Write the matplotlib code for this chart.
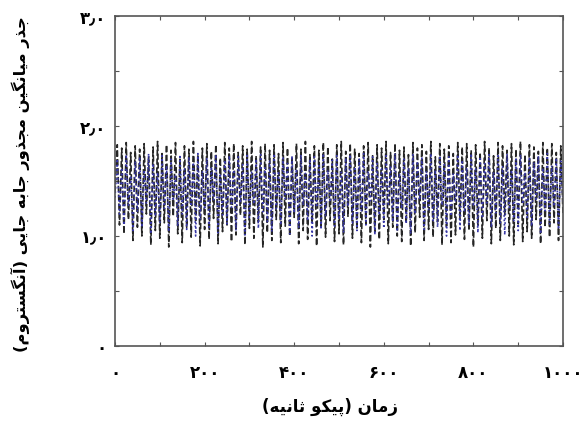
import numpy as np
import matplotlib
matplotlib.use("Agg")
import matplotlib.pyplot as plt
from matplotlib.ticker import MultipleLocator

# داده‌ها (خوانده شده از تصویر)
time_ps = np.linspace(0, 1000, 201)

rmsd_black = [
    1.40, 1.83, 1.10, 1.80, 1.02, 1.85, 1.15, 1.76, 0.96, 1.82,
    1.08, 1.79, 1.00, 1.84, 1.20, 1.72, 0.92, 1.81, 1.05, 1.86,
    0.98, 1.75, 1.12, 1.83, 0.90, 1.78, 1.18, 1.85, 1.02, 1.70,
    0.94, 1.82, 1.08, 1.79, 0.99, 1.86, 1.14, 1.74, 0.91, 1.80,
    1.06, 1.84, 0.97, 1.77, 1.16, 1.83, 0.93, 1.71, 1.04, 1.85,
    1.10, 1.80, 0.95, 1.84, 1.01, 1.76, 1.19, 1.82, 0.92, 1.79,
    1.07, 1.86, 0.98, 1.73, 1.13, 1.81, 0.90, 1.84, 1.03, 1.78,
    0.96, 1.83, 1.15, 1.75, 0.94, 1.85, 1.09, 1.80, 1.00, 1.72,
    1.17, 1.84, 0.93, 1.79, 1.05, 1.86, 0.97, 1.74, 1.12, 1.82,
    0.91, 1.78, 1.08, 1.85, 0.99, 1.81, 1.14, 1.70, 0.95, 1.83,
    1.02, 1.86, 0.92, 1.77, 1.18, 1.84, 0.98, 1.79, 1.06, 1.75,
    0.94, 1.82, 1.11, 1.85, 0.90, 1.73, 1.04, 1.83, 0.97, 1.80,
    1.15, 1.86, 0.93, 1.76, 1.08, 1.84, 1.00, 1.78, 0.95, 1.81,
    1.12, 1.74, 0.91, 1.85, 1.03, 1.80, 1.17, 1.83, 0.96, 1.77,
    1.06, 1.86, 0.99, 1.72, 1.13, 1.84, 0.92, 1.79, 1.09, 1.82,
    0.94, 1.75, 1.01, 1.85, 1.16, 1.81, 0.97, 1.84, 1.05, 1.78,
    0.90, 1.83, 1.10, 1.76, 0.98, 1.86, 1.14, 1.80, 0.93, 1.73,
    1.07, 1.85, 0.96, 1.82, 1.19, 1.78, 1.00, 1.84, 0.92, 1.79,
    1.11, 1.86, 0.95, 1.74, 1.04, 1.83, 0.98, 1.81, 1.15, 1.77,
    0.93, 1.85, 1.08, 1.80, 0.99, 1.84, 1.12, 1.76, 0.96, 1.82,
    1.20,
]

rmsd_blue = [
    1.35, 1.70, 1.20, 1.62, 1.10, 1.74, 1.28, 1.55, 1.05, 1.68,
    1.22, 1.72, 1.08, 1.60, 1.30, 1.75, 1.02, 1.66, 1.18, 1.58,
    1.12, 1.73, 1.25, 1.64, 1.04, 1.70, 1.32, 1.56, 1.09, 1.74,
    1.20, 1.61, 1.06, 1.72, 1.27, 1.67, 1.00, 1.75, 1.15, 1.59,
    1.24, 1.71, 1.08, 1.63, 1.33, 1.74, 1.03, 1.57, 1.19, 1.69,
    1.11, 1.73, 1.26, 1.60, 1.05, 1.72, 1.30, 1.65, 1.01, 1.75,
    1.17, 1.58, 1.29, 1.70, 1.07, 1.74, 1.22, 1.62, 1.13, 1.68,
    1.04, 1.75, 1.25, 1.59, 1.10, 1.71, 1.34, 1.66, 1.02, 1.73,
    1.21, 1.61, 1.08, 1.74, 1.28, 1.57, 1.14, 1.70, 1.00, 1.72,
    1.26, 1.64, 1.06, 1.75, 1.18, 1.60, 1.31, 1.69, 1.09, 1.73,
    1.15, 1.58, 1.03, 1.71, 1.27, 1.74, 1.12, 1.63, 1.05, 1.70,
    1.23, 1.75, 1.10, 1.59, 1.32, 1.72, 1.01, 1.66, 1.19, 1.61,
    1.07, 1.73, 1.29, 1.64, 1.13, 1.75, 1.04, 1.57, 1.25, 1.70,
    1.11, 1.62, 1.02, 1.74, 1.20, 1.68, 1.33, 1.71, 1.06, 1.59,
    1.24, 1.75, 1.14, 1.60, 1.08, 1.73, 1.28, 1.65, 1.00, 1.72,
    1.18, 1.57, 1.31, 1.74, 1.05, 1.69, 1.22, 1.62, 1.10, 1.75,
    1.27, 1.61, 1.03, 1.72, 1.16, 1.66, 1.30, 1.74, 1.08, 1.58,
    1.21, 1.73, 1.12, 1.63, 1.01, 1.75, 1.26, 1.60, 1.14, 1.70,
    1.05, 1.74, 1.29, 1.58, 1.17, 1.72, 1.09, 1.67, 1.32, 1.73,
    1.02, 1.62, 1.23, 1.75, 1.11, 1.64, 1.27, 1.71, 1.06, 1.68,
    1.30,
]

x_ticks = [0, 200, 400, 600, 800, 1000]
x_tick_labels = ["۰", "۲۰۰", "۴۰۰", "۶۰۰", "۸۰۰", "۱۰۰۰"]
y_ticks = [0, 1, 2, 3]
y_tick_labels = ["۰", "۱٫۰", "۲٫۰", "۳٫۰"]

x_label = "زمان (پیکو ثانیه)"
y_label = "جذر میانگین مجذور جابه جایی (آنگستروم)"

# شکل‌دهی ساده حروف فارسی (matplotlib خودش اتصال حروف را انجام نمی‌دهد)
# (منفرد، پایانی، آغازی، میانی)
FORMS = {
    "ا": ("\uFE8D", "\uFE8E", None, None),
    "آ": ("\uFE81", "\uFE82", None, None),
    "ب": ("\uFE8F", "\uFE90", "\uFE91", "\uFE92"),
    "پ": ("\uFB56", "\uFB57", "\uFB58", "\uFB59"),
    "ت": ("\uFE95", "\uFE96", "\uFE97", "\uFE98"),
    "ث": ("\uFE99", "\uFE9A", "\uFE9B", "\uFE9C"),
    "ج": ("\uFE9D", "\uFE9E", "\uFE9F", "\uFEA0"),
    "ذ": ("\uFEAB", "\uFEAC", None, None),
    "ر": ("\uFEAD", "\uFEAE", None, None),
    "ز": ("\uFEAF", "\uFEB0", None, None),
    "س": ("\uFEB1", "\uFEB2", "\uFEB3", "\uFEB4"),
    "ک": ("\uFB8E", "\uFB8F", "\uFB90", "\uFB91"),
    "گ": ("\uFB92", "\uFB93", "\uFB94", "\uFB95"),
    "م": ("\uFEE1", "\uFEE2", "\uFEE3", "\uFEE4"),
    "ن": ("\uFEE5", "\uFEE6", "\uFEE7", "\uFEE8"),
    "و": ("\uFEED", "\uFEEE", None, None),
    "ه": ("\uFEE9", "\uFEEA", "\uFEEB", "\uFEEC"),
    "ی": ("\uFBFC", "\uFBFD", "\uFBFE", "\uFBFF"),
}


def fa(text):
    out = []
    for i, c in enumerate(text):
        if c not in FORMS:
            out.append(c)
            continue
        prev = text[i - 1] if i > 0 else None
        nxt = text[i + 1] if i + 1 < len(text) else None
        join_prev = prev in FORMS and FORMS[prev][2] is not None
        join_next = nxt in FORMS and FORMS[c][2] is not None
        iso, fin, ini, med = FORMS[c]
        if join_prev and join_next:
            out.append(med)
        elif join_prev:
            out.append(fin)
        elif join_next:
            out.append(ini)
        else:
            out.append(iso)
    vis = "".join(out)[::-1]
    return vis.translate(str.maketrans("()", ")("))


plt.rcParams["font.family"] = ["DejaVu Sans"]

fig = plt.figure(figsize=(5.88, 4.23), dpi=100)
ax = fig.add_axes([0.1956, 0.182, 0.7619, 0.780])

ax.plot(time_ps, rmsd_black, color="#262626", linestyle="--", linewidth=1.2)
ax.plot(time_ps, rmsd_blue, color="#3535a5", linestyle=":", linewidth=1.2)

ax.set_xlim(0, 1000)
ax.set_ylim(0, 3)
ax.set_xticks(x_ticks)
ax.set_xticklabels(x_tick_labels, fontweight="bold", fontsize=12)
ax.set_yticks(y_ticks)
ax.set_yticklabels(y_tick_labels, fontweight="bold", fontsize=12)
ax.xaxis.set_minor_locator(MultipleLocator(100))
ax.yaxis.set_minor_locator(MultipleLocator(0.5))
ax.tick_params(which="both", direction="in", length=3, width=0.8, color="#555555",
               top=True, right=True)
ax.tick_params(axis="x", which="major", pad=13)
ax.tick_params(axis="y", which="major", pad=6)

for s in ax.spines.values():
    s.set_color("#555555")
    s.set_linewidth(1.2)

ax.set_xlabel(fa(x_label), fontweight="bold", fontsize=12, labelpad=11)
ax.xaxis.label.set_x(0.48)
ax.set_ylabel(fa(y_label), fontweight="bold", fontsize=11.7, labelpad=36)
ax.yaxis.label.set_y(0.49)

fig.savefig("out.png", dpi=100)
